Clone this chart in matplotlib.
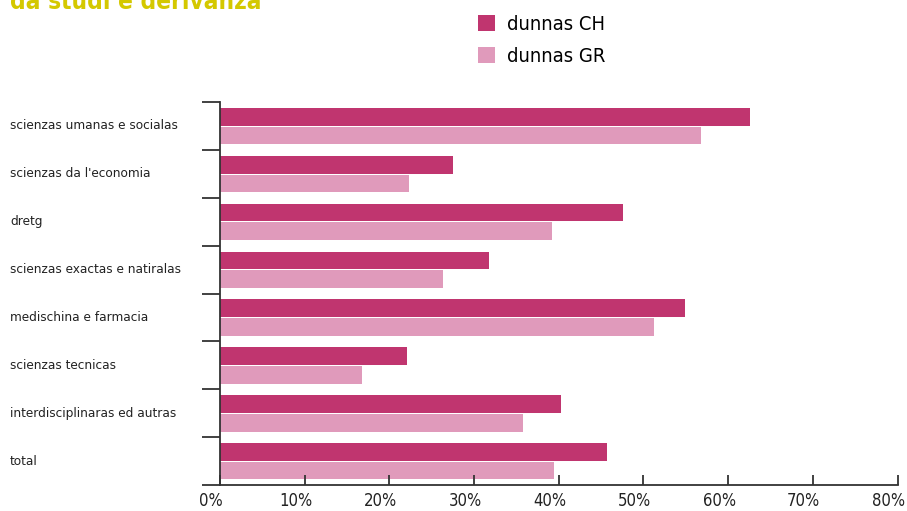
import matplotlib
matplotlib.use('Agg')
import matplotlib.pyplot as plt
import matplotlib.transforms as mtransforms

categories = ['scienzas umanas e socialas', "scienzas da l'economia", 'dretg',
              'scienzas exactas e natiralas', 'medischina e farmacia',
              'scienzas tecnicas', 'interdisciplinaras ed autras', 'total']
dunnas_ch = [62.6, 27.5, 47.6, 31.8, 54.9, 22.1, 40.3, 45.7]
dunnas_gr = [56.8, 22.3, 39.2, 26.3, 51.2, 16.8, 35.8, 39.4]
xticks = [0, 10, 20, 30, 40, 50, 60, 70, 80]

plt.rcParams['font.family'] = ['DejaVu Sans']
plt.rcParams['font.stretch'] = 'condensed'

col_ch = '#C0356F'
col_gr = '#E09ABB'
dark = '#333333'

W, H = 907, 511
fig = plt.figure(figsize=(W / 100, H / 100), dpi=100)
ax = fig.add_axes([220 / W, (H - 485) / H, 677.5 / W, 383 / H])

pos = list(range(len(categories)))
ax.barh([p + 0.31 for p in pos], dunnas_ch, height=0.37, color=col_ch, label='dunnas CH')
ax.barh([p + 0.70 for p in pos], dunnas_gr, height=0.37, color=col_gr, label='dunnas GR')

ax.set_ylim(len(categories), 0)
ax.set_xlim(0, 80)
ax.set_yticks(range(len(categories) + 1))
ax.set_yticklabels([])
ax.tick_params(axis='y', direction='out', length=13, width=1.3, color=dark)
ax.set_xticks(xticks)
ax.set_xticklabels([f'{t}%' for t in xticks], fontsize=12, color='#222222')
ax.tick_params(axis='x', direction='in', length=7.5, width=1.3, color=dark, pad=5)
# labels sit a little left of their ticks in the original
shift = mtransforms.ScaledTranslation(-9 / 100, 0, fig.dpi_scale_trans)
for lbl in ax.get_xticklabels():
    lbl.set_transform(lbl.get_transform() + shift)
for s in ['top', 'right']:
    ax.spines[s].set_visible(False)
for s in ['left', 'bottom']:
    ax.spines[s].set_color(dark)
    ax.spines[s].set_linewidth(1.3)

trans = mtransforms.blended_transform_factory(fig.transFigure, ax.transData)
for p, c in zip(pos, categories):
    ax.text(10 / W, p + 0.5, c, transform=trans, fontsize=9.7, color='#222222',
            va='center', ha='left')

fig.text(10 / W, 1 - 9 / H, 'da studi e derivanza', fontsize=17.5, fontweight='bold',
         color='#D4C800', va='baseline', ha='left')

leg = fig.legend(loc='upper left', bbox_to_anchor=(460 / W, 1 + 3 / H), frameon=False,
                 fontsize=14.5, handlelength=0.85, handleheight=0.85, handletextpad=0.6,
                 labelspacing=0.62)

fig.savefig('out.png', dpi=100)
